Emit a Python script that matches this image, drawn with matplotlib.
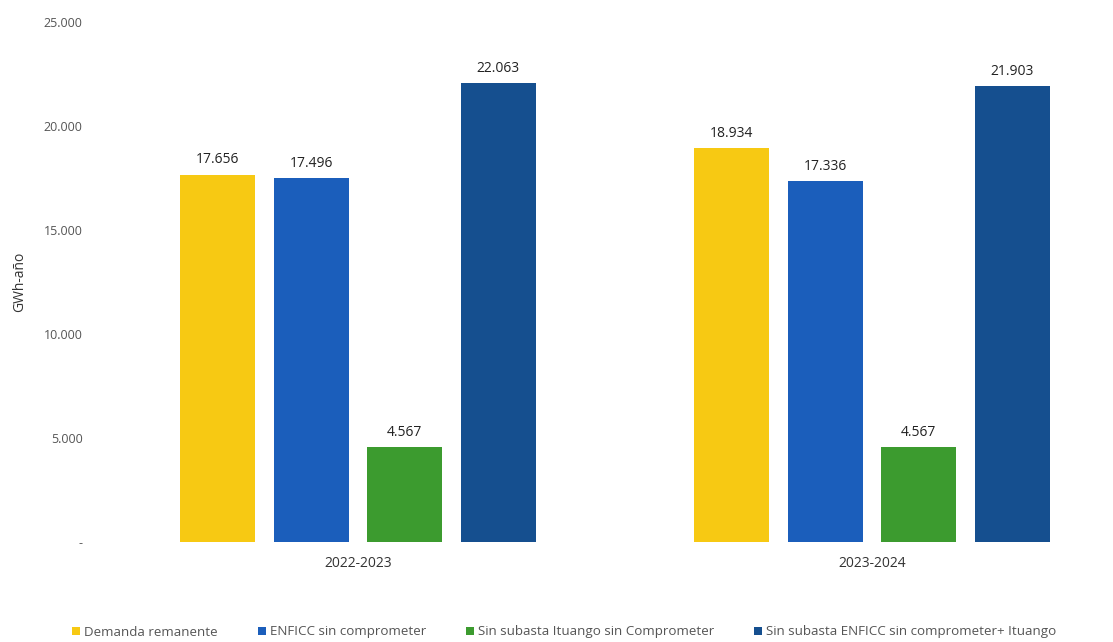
import matplotlib
matplotlib.use("Agg")
import matplotlib.pyplot as plt
import numpy as np

categories = ["2022-2023", "2023-2024"]
series_names = [
    "Demanda remanente",
    "ENFICC sin comprometer",
    "Sin subasta Ituango sin Comprometer",
    "Sin subasta ENFICC sin comprometer+ Ituango",
]
demanda = [17656, 18934]
enficc = [17496, 17336]
ituango = [4567, 4567]
enficc_ituango = [22063, 21903]
y_ticks = [0, 5000, 10000, 15000, 20000, 25000]
y_tick_labels = ["-", "5.000", "10.000", "15.000", "20.000", "25.000"]

colors = ["#F7C913", "#1B5EBB", "#3C9B2F", "#154F8F"]
series = [demanda, enficc, ituango, enficc_ituango]

plt.rcParams["font.family"] = ["Open Sans", "DejaVu Sans"]

fig = plt.figure(figsize=(11.13, 6.42), dpi=100)
W, H = 1113, 642
left, right, top, bottom = 95, 1080, 22, 542
ax = fig.add_axes([left / W, 1 - bottom / H, (right - left) / W, (bottom - top) / H])

x = np.arange(len(categories))
step = 0.182
width = 0.146
offsets = (np.arange(len(series)) - 1.5) * step

def fmt(v):
    return f"{v:,.0f}".replace(",", ".")

for i, (vals, col, name) in enumerate(zip(series, colors, series_names)):
    bars = ax.bar(x + offsets[i], vals, width, color=col, label=name)
    for b, v in zip(bars, vals):
        ax.text(b.get_x() + b.get_width() / 2, v + 350, fmt(v),
                ha="center", va="bottom", fontsize=10, color="#222222")

ax.set_xlim((left - 358) / 514, (right - 358) / 514)
ax.set_ylim(0, 25000)
ax.set_yticks(y_ticks)
ax.set_yticklabels(y_tick_labels, color="#555555", fontsize=9)
ax.set_xticks(x)
ax.set_xticklabels(categories, fontsize=10, color="#333333")
ax.tick_params(axis="both", length=0)
ax.tick_params(axis="x", pad=10)
ax.tick_params(axis="y", pad=9)
for s in ax.spines.values():
    s.set_visible(False)
ax.set_ylabel("GWh-año", fontsize=10, color="#333333", labelpad=12)

fig.legend(loc="center", bbox_to_anchor=(0.507, 1 - 632 / H), ncol=4, frameon=False,
           fontsize=9.6, handlelength=0.6, handleheight=0.6, handletextpad=0.3,
           columnspacing=3.0, labelcolor="#555555")

fig.savefig("out.png", dpi=100)
